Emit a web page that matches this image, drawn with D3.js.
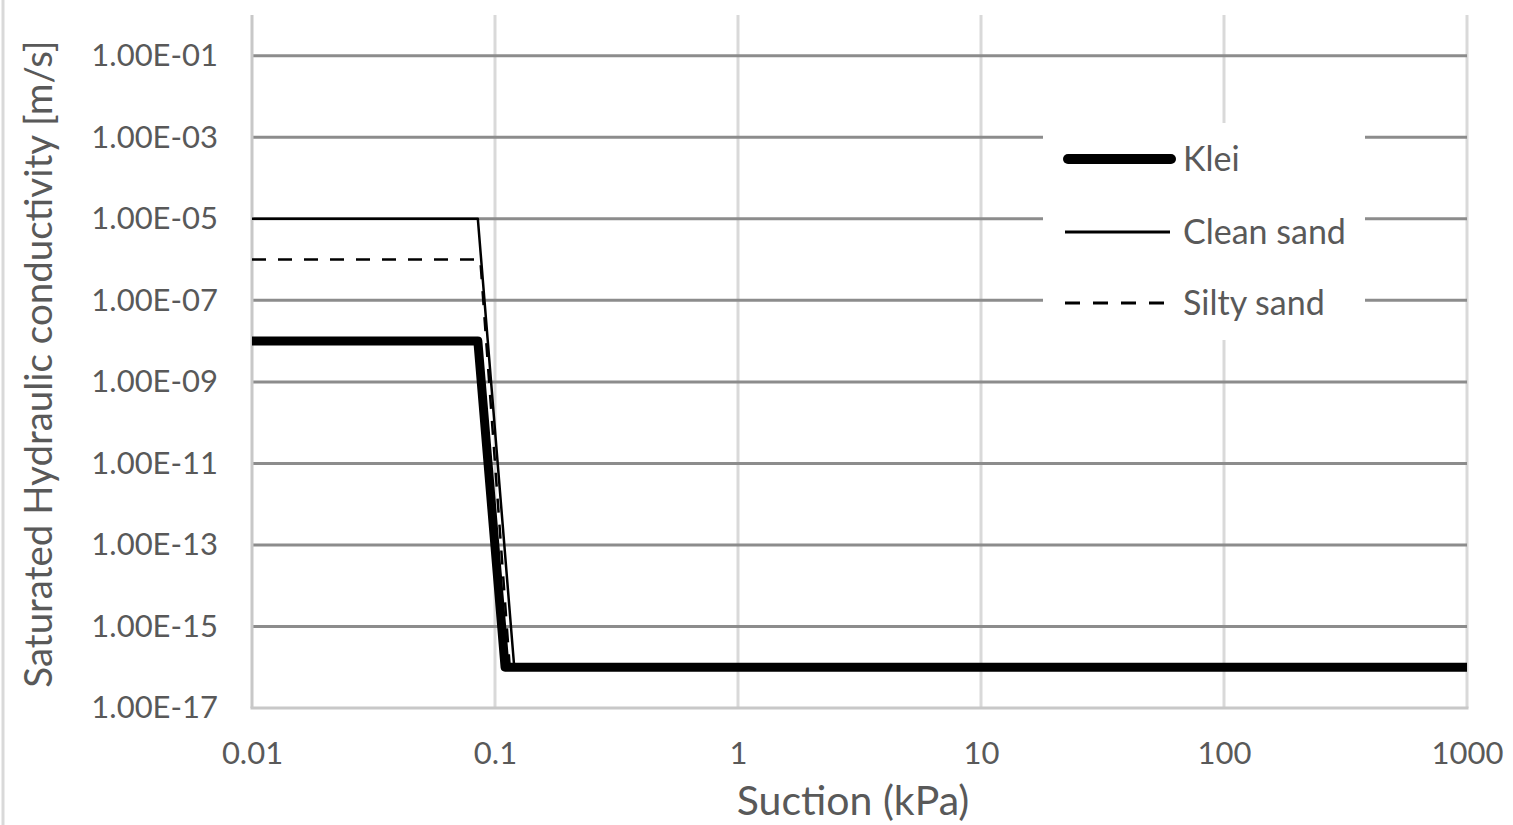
<!DOCTYPE html>
<html>
<head>
<meta charset="utf-8">
<script src="https://cdn.jsdelivr.net/npm/d3@7"></script>
<style>
  html, body { margin: 0; padding: 0; background: #fff; }
  svg { display: block; }
  text { font-family: Lato, "Open Sans", sans-serif; fill: #595959; }
</style>
</head>
<body>
<svg id="chart" width="1513" height="825"></svg>
<script>
// Suction (kPa) vs. saturated hydraulic conductivity (m/s) per soil type
const kleiData      = [[0.01, 1e-8], [0.085, 1e-8], [0.11, 1e-16], [1000, 1e-16]];
const cleanSandData = [[0.01, 1e-5], [0.085, 1e-5], [0.12, 1e-16], [1000, 1e-16]];
const siltySandData = [[0.01, 1e-6], [0.087, 1e-6], [0.115, 1e-16], [1000, 1e-16]];

const seriesNames = ["Klei", "Clean sand", "Silty sand"];
const xTickValues = [0.01, 0.1, 1, 10, 100, 1000];
const yTickValues = [1e-17, 1e-15, 1e-13, 1e-11, 1e-9, 1e-7, 1e-5, 1e-3, 1e-1];

const xTitle = "Suction (kPa)";
const yTitle = "Saturated Hydraulic conductivity [m/s]";

const svg = d3.select("#chart");
const plot = { left: 252, right: 1467, top: 15, bottom: 708 };

const x = d3.scaleLog().domain([0.01, 1000]).range([plot.left, plot.right]);
const y = d3.scaleLog().domain([1e-17, 1]).range([plot.bottom, plot.top]);

// Excel-style scientific labels, e.g. 1.00E-05
function sci(v) {
  const [m, e] = v.toExponential(2).split("e");
  const n = +e;
  const sign = n < 0 ? "-" : "+";
  return m + "E" + sign + String(Math.abs(n)).padStart(2, "0");
}

// outer frame edge on the left
svg.append("line")
  .attr("x1", 3).attr("x2", 3).attr("y1", 0).attr("y2", 825)
  .attr("stroke", "#d9d9d9").attr("stroke-width", 3);

// vertical gridlines
svg.append("g")
  .selectAll("line")
  .data(xTickValues.slice(1))
  .join("line")
  .attr("x1", d => x(d)).attr("x2", d => x(d))
  .attr("y1", plot.top).attr("y2", plot.bottom)
  .attr("stroke", "#d9d9d9").attr("stroke-width", 3);

// horizontal gridlines
svg.append("g")
  .selectAll("line")
  .data(yTickValues.slice(1))
  .join("line")
  .attr("x1", plot.left).attr("x2", plot.right)
  .attr("y1", d => y(d)).attr("y2", d => y(d))
  .attr("stroke", "#8c8c8c").attr("stroke-width", 3);

// axis lines
svg.append("line")
  .attr("x1", plot.left).attr("x2", plot.left)
  .attr("y1", plot.top).attr("y2", plot.bottom)
  .attr("stroke", "#c8c8c8").attr("stroke-width", 3);
svg.append("line")
  .attr("x1", plot.left - 1.5).attr("x2", plot.right + 1.5)
  .attr("y1", plot.bottom).attr("y2", plot.bottom)
  .attr("stroke", "#c8c8c8").attr("stroke-width", 3);

// y axis labels
const yAxis = d3.axisLeft(y).tickValues(yTickValues).tickFormat(sci).tickSize(0).tickPadding(34);
const gy = svg.append("g").attr("transform", `translate(${plot.left},0)`).call(yAxis);
gy.select(".domain").remove();
gy.selectAll("text").attr("fill", "#595959").style("font-size", "31px")
  .style("font-family", "Lato, 'Open Sans', sans-serif");

// x axis labels
const xAxis = d3.axisBottom(x).tickValues(xTickValues).tickFormat(d => String(d)).tickSize(0).tickPadding(34);
const gx = svg.append("g").attr("transform", `translate(0,${plot.bottom})`).call(xAxis);
gx.select(".domain").remove();
gx.selectAll("text").attr("fill", "#595959").style("font-size", "31px")
  .style("font-family", "Lato, 'Open Sans', sans-serif");

// axis titles
svg.append("text")
  .attr("x", 853).attr("y", 815)
  .attr("text-anchor", "middle")
  .style("font-size", "41px")
  .text(xTitle);
svg.append("text")
  .attr("transform", `translate(52,364) rotate(-90)`)
  .attr("text-anchor", "middle")
  .style("font-size", "38.5px")
  .text(yTitle);

// series
const line = d3.line().x(d => x(d[0])).y(d => y(d[1]));
const styles = [
  { data: kleiData,      width: 9,   dash: null },
  { data: cleanSandData, width: 2.5, dash: null },
  { data: siltySandData, width: 2.5, dash: "14,12" }
];
const drawOrder = [2, 1, 0];
svg.append("g")
  .selectAll("path")
  .data(drawOrder.map(i => styles[i]))
  .join("path")
  .attr("d", d => line(d.data))
  .attr("fill", "none")
  .attr("stroke", "#000")
  .attr("stroke-width", d => d.width)
  .attr("stroke-dasharray", d => d.dash)
  .attr("stroke-linejoin", "round");

// legend
const legend = svg.append("g");
legend.append("rect")
  .attr("x", 1043).attr("y", 123).attr("width", 322).attr("height", 217)
  .attr("fill", "#fff");
const legendRows = [159, 232, 303];
const legendStyles = [
  { width: 10, dash: null, cap: "round", x1: 1068, x2: 1171 },
  { width: 3, dash: null, cap: "butt", x1: 1065, x2: 1170 },
  { width: 3, dash: "15,13", cap: "butt", x1: 1065, x2: 1168 }
];
seriesNames.forEach((name, i) => {
  const s = legendStyles[i];
  legend.append("line")
    .attr("x1", s.x1).attr("x2", s.x2)
    .attr("y1", legendRows[i]).attr("y2", legendRows[i])
    .attr("stroke", "#000").attr("stroke-width", s.width)
    .attr("stroke-linecap", s.cap)
    .attr("stroke-dasharray", s.dash);
  legend.append("text")
    .attr("x", 1183).attr("y", legendRows[i])
    .attr("dy", "0.35em")
    .style("font-size", "34px")
    .text(name);
});
</script>
</body>
</html>
